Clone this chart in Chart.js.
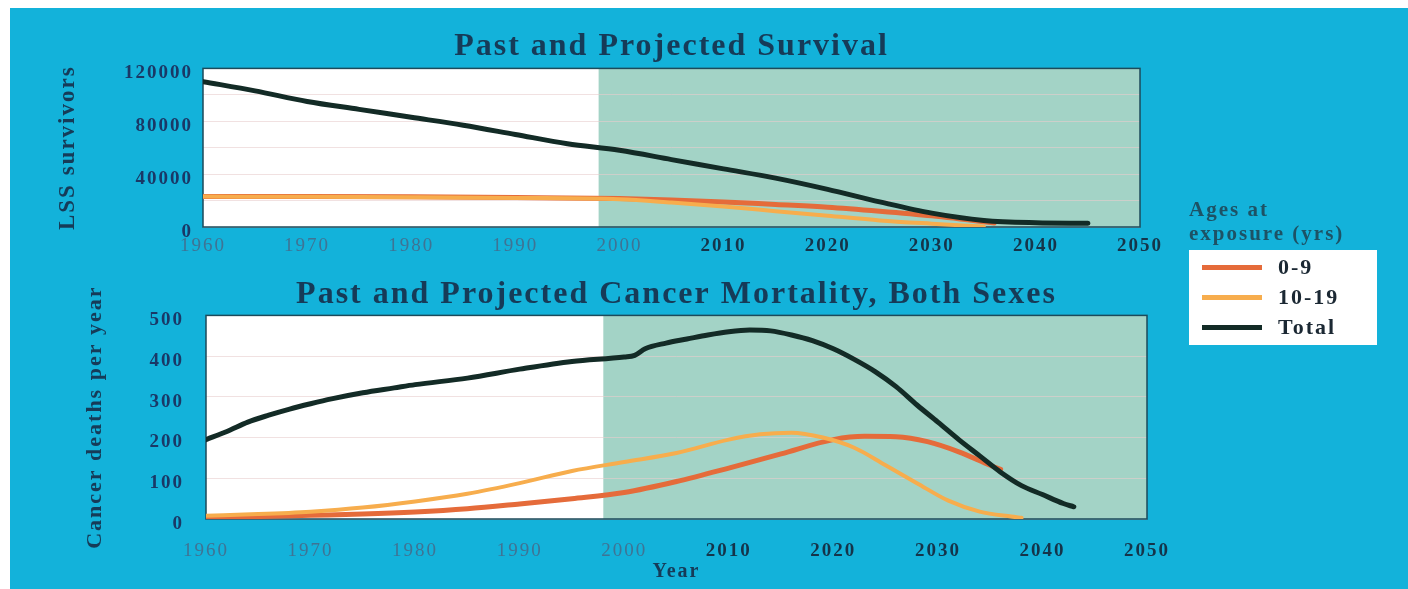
<!DOCTYPE html>
<html>
<head>
<meta charset="utf-8">
<script src="https://cdn.jsdelivr.net/npm/chart.js@4.4.1/dist/chart.umd.min.js"></script>
<style>
html,body{margin:0;padding:0;background:#fff;}
body{width:1408px;height:589px;position:relative;overflow:hidden;}
#bg{position:absolute;left:10px;top:8px;right:0;bottom:0;background:#13b2da;}
#c1{position:absolute;left:0;top:0;}
#c2{position:absolute;left:0;top:259px;}
#lgTitle{position:absolute;left:1189px;top:197px;font:bold 21px "Liberation Serif",serif;color:#1d5265;line-height:24px;letter-spacing:2px;white-space:nowrap;}
#lgBox{position:absolute;left:1189px;top:250px;width:188px;height:95px;background:#fff;}
.lgItem{position:absolute;left:13px;height:30px;display:flex;align-items:center;font:bold 22px "Liberation Serif",serif;color:#1b2833;letter-spacing:2px;}
.lgSw{width:60px;height:5px;margin-right:16px;}
</style>
</head>
<body>
<div id="bg"></div>
<canvas id="c1" width="1408" height="259"></canvas>
<canvas id="c2" width="1408" height="330"></canvas>
<div id="lgTitle">Ages at<br>exposure (yrs)</div>
<div id="lgBox"></div>
<script>
// ---------- data ----------
const seriesLabels = ['0-9', '10-19', 'Total'];
const shadeStart = 1998;           // start of projected period
const yearMin = 1960, yearMax = 2050;

// Past and Projected Survival (LSS survivors)
const survYearsTotal = [1960,1965,1970,1975,1980,1985,1990,1995,2000,2005,2010,2015,2020,2025,2030,2035,2040,2045];
const survTotal      = [110000,103000,95000,89000,83000,77000,70000,63000,58000,51000,44000,37000,28500,19000,10500,5000,3200,2800];
const survYears0to9  = [1960,1970,1980,1990,2000,2005,2010,2015,2020,2025,2030,2035,2036];
const surv0to9       = [23000,23000,22800,22300,21500,20500,19000,17000,15000,12000,8500,4000,3000];
const survYears10to19= [1960,1970,1980,1990,2000,2005,2010,2015,2020,2025,2030,2035];
const surv10to19     = [23000,22800,22500,22000,21000,18500,15500,12000,8500,5000,2500,300];

// Past and Projected Cancer Mortality, Both Sexes (deaths per year)
const mortYearsTotal = [1960,1962,1964,1966,1968,1970,1972,1975,1978,1980,1985,1990,1995,2000,2001,2002,2004,2006,2008,2010,2012,2014,2016,2018,2020,2022,2024,2026,2028,2030,2032,2034,2036,2038,2040,2042,2043];
const mortTotal      = [195,215,238,255,270,283,295,310,322,330,346,368,387,398,402,418,432,442,452,460,464,462,452,438,418,392,362,325,280,238,195,155,115,82,60,38,30];
const mortYears0to9  = [1960,1965,1970,1975,1980,1985,1990,1995,2000,2005,2010,2015,2020,2023,2026,2029,2032,2035,2036];
const mort0to9       = [5,6,9,12,17,25,37,50,65,92,125,160,195,203,202,190,165,132,122];
const mortYears10to19= [1960,1965,1970,1975,1980,1985,1990,1995,2000,2005,2010,2013,2016,2019,2022,2025,2028,2031,2034,2037,2038];
const mort10to19     = [8,12,18,28,43,62,88,118,140,162,195,208,212,200,175,132,88,45,18,6,3];

// ---------- styles ----------
const SERIF = '"Liberation Serif", "Times New Roman", serif';
const colors = ['#e56b3a', '#f7ad4d', '#132b26'];
const widths = [5, 4, 5];
const titleColor = '#163b58';

const pts = (xs, ys) => xs.map((x, i) => ({x, y: ys[i]}));

// legend (HTML)
const lgBox = document.getElementById('lgBox');
seriesLabels.forEach((lab, i) => {
  const d = document.createElement('div');
  d.className = 'lgItem';
  d.style.top = (2 + i * 30) + 'px';
  const sw = document.createElement('div');
  sw.className = 'lgSw';
  sw.style.background = colors[i];
  d.appendChild(sw);
  d.appendChild(document.createTextNode(lab));
  lgBox.appendChild(d);
});

const plotBg = {
  id: 'plotBg',
  beforeDraw(chart) {
    const {ctx, chartArea: a, scales: {x}} = chart;
    ctx.save();
    ctx.fillStyle = '#ffffff';
    ctx.fillRect(a.left, a.top, a.width, a.height);
    const sx = x.getPixelForValue(shadeStart);
    ctx.fillStyle = '#a3d3c6';
    ctx.fillRect(sx, a.top, a.right - sx, a.height);
    ctx.restore();
    ctx.letterSpacing = '2px';
  },
  beforeDatasetsDraw(chart) {
    const {ctx, chartArea: a} = chart;
    ctx.save();
    ctx.strokeStyle = '#1d4a5a';
    ctx.lineWidth = 1.5;
    ctx.strokeRect(a.left, a.top, a.width, a.height);
    ctx.restore();
  }
};

function makeDatasets(groups) {
  return groups.map((g, i) => ({
    label: seriesLabels[i],
    data: pts(g[0], g[1]),
    borderColor: colors[i],
    backgroundColor: colors[i],
    borderWidth: widths[i],
    pointRadius: 0,
    fill: false,
    cubicInterpolationMode: 'monotone',
    borderCapStyle: 'round',
    order: i === 2 ? 0 : (i === 1 ? 1 : 2)
  }));
}

function xAxis(h, pad, withTitle) {
  return {
    type: 'linear', min: yearMin, max: yearMax,
    afterFit(s) { s.height = h; },
    grid: {display: false},
    border: {display: false},
    ticks: {
      stepSize: 10, padding: pad, autoSkip: false, maxRotation: 0,
      callback: v => String(v),
      font: c => ({family: SERIF, size: 19, weight: (c.tick && c.tick.value >= 2010) ? 'bold' : 'normal'}),
      color: c => (c.tick && c.tick.value >= 2010) ? '#15344a' : '#3f7394'
    },
    title: withTitle ? {display: true, text: 'Year', color: titleColor,
      font: {family: SERIF, size: 20, weight: 'bold'}, padding: {top: 0, bottom: 5}} : {display: false}
  };
}

function yAxis(w, max, step, labelEvery, pad, title, titleSize, titlePad) {
  return {
    min: 0, max: max,
    afterFit(s) { s.width = w; },
    grid: {color: 'rgba(232,205,205,0.6)', drawTicks: false, lineWidth: 1},
    border: {display: false},
    ticks: {
      stepSize: step, padding: pad, labelOffset: 5,
      callback: v => (v % labelEvery === 0) ? String(v) : '',
      font: {family: SERIF, size: 19, weight: 'bold'},
      color: '#1a3866'
    },
    title: {display: true, text: title, color: titleColor,
      font: {family: SERIF, size: titleSize, weight: 'bold'}, padding: {top: titlePad, bottom: 0}}
  };
}

function chartTitle(text, pt, pb) {
  return {display: true, text, fullSize: false, color: titleColor,
    font: {family: SERIF, size: 32, weight: 'bold'}, padding: {top: pt, bottom: pb}};
}

new Chart(document.getElementById('c1'), {
  type: 'line',
  data: {datasets: makeDatasets([
    [survYears0to9, surv0to9], [survYears10to19, surv10to19], [survYearsTotal, survTotal]])},
  options: {
    responsive: false, animation: false,
    layout: {padding: {left: 0, right: 268, top: 0, bottom: 0}},
    plugins: {legend: {display: false}, tooltip: {enabled: false},
      title: chartTitle('Past and Projected Survival', 28, 2)},
    scales: {
      x: xAxis(32, 0, false),
      y: yAxis(203, 120000, 20000, 40000, 10, 'LSS survivors', 23, 54)
    }
  },
  plugins: [plotBg]
});

new Chart(document.getElementById('c2'), {
  type: 'line',
  data: {datasets: makeDatasets([
    [mortYears0to9, mort0to9], [mortYears10to19, mort10to19], [mortYearsTotal, mortTotal]])},
  options: {
    responsive: false, animation: false,
    layout: {padding: {left: 0, right: 261, top: 0, bottom: 0}},
    plugins: {legend: {display: false}, tooltip: {enabled: false},
      title: chartTitle('Past and Projected Cancer Mortality, Both Sexes', 17, 1)},
    scales: {
      x: xAxis(70, 13, true),
      y: yAxis(206, 500, 100, 100, 22, 'Cancer deaths per year', 22, 82)
    }
  },
  plugins: [plotBg]
});
</script>
</body>
</html>
